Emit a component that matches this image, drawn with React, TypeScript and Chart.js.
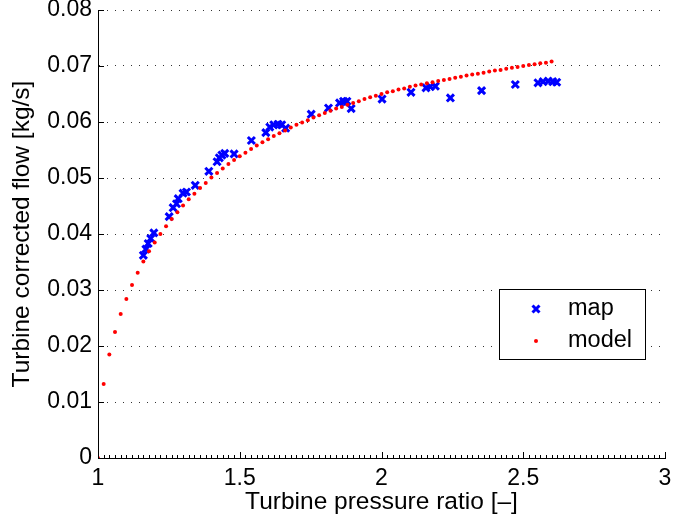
import React, { useEffect, useRef } from "react";
import { Chart, registerables } from "chart.js";

Chart.register(...registerables);

const mapX = [1.160, 1.169, 1.177, 1.186, 1.197, 1.251, 1.265, 1.277, 1.283, 1.300, 1.312, 1.343, 1.391, 1.420, 1.428, 1.437, 1.447, 1.480, 1.541, 1.592, 1.606, 1.620, 1.635, 1.648, 1.662, 1.752, 1.813, 1.852, 1.866, 1.878, 1.893, 2.002, 2.104, 2.157, 2.172, 2.190, 2.243, 2.353, 2.472, 2.552, 2.570, 2.588, 2.604, 2.618];
const mapY = [0.0362, 0.0373, 0.0383, 0.0392, 0.0402, 0.0431, 0.0447, 0.0454, 0.0463, 0.0473, 0.0475, 0.0487, 0.0512, 0.0529, 0.0536, 0.0541, 0.0544, 0.0543, 0.0567, 0.0581, 0.0591, 0.0595, 0.0596, 0.0595, 0.0589, 0.0614, 0.0625, 0.0634, 0.0637, 0.0637, 0.0624, 0.0641, 0.0653, 0.0661, 0.0663, 0.0664, 0.0643, 0.0656, 0.0667, 0.0670, 0.0672, 0.0673, 0.0672, 0.0671];

const modelX = [1.00, 1.02, 1.04, 1.06, 1.08, 1.10, 1.12, 1.14, 1.16, 1.18, 1.20, 1.22, 1.24, 1.26, 1.28, 1.30, 1.32, 1.34, 1.36, 1.38, 1.40, 1.42, 1.44, 1.46, 1.48, 1.50, 1.52, 1.54, 1.56, 1.58, 1.60, 1.62, 1.64, 1.66, 1.68, 1.70, 1.72, 1.74, 1.76, 1.78, 1.80, 1.82, 1.84, 1.86, 1.88, 1.90, 1.92, 1.94, 1.96, 1.98, 2.00, 2.02, 2.04, 2.06, 2.08, 2.10, 2.12, 2.14, 2.16, 2.18, 2.20, 2.22, 2.24, 2.26, 2.28, 2.30, 2.32, 2.34, 2.36, 2.38, 2.40, 2.42, 2.44, 2.46, 2.48, 2.50, 2.52, 2.54, 2.56, 2.58, 2.60];
const modelY = [0.0, 0.0132, 0.0185, 0.0225, 0.0257, 0.0284, 0.0309, 0.0331, 0.0351, 0.0369, 0.0385, 0.0400, 0.0414, 0.0427, 0.0439, 0.0451, 0.0462, 0.0472, 0.0482, 0.0491, 0.0501, 0.0509, 0.0517, 0.0525, 0.0532, 0.0539, 0.0545, 0.0552, 0.0558, 0.0564, 0.0569, 0.0575, 0.0580, 0.0585, 0.0590, 0.0595, 0.0599, 0.0603, 0.0608, 0.0612, 0.0616, 0.0620, 0.0624, 0.0627, 0.0631, 0.0634, 0.0637, 0.0641, 0.0644, 0.0647, 0.0650, 0.0653, 0.0655, 0.0658, 0.0660, 0.0663, 0.0665, 0.0667, 0.0669, 0.0671, 0.0673, 0.0675, 0.0677, 0.0679, 0.0681, 0.0683, 0.0685, 0.0686, 0.0688, 0.0690, 0.0692, 0.0693, 0.0695, 0.0697, 0.0698, 0.0700, 0.0702, 0.0703, 0.0705, 0.0706, 0.0708];

const xTickLabels = ["1", "1.5", "2", "2.5", "3"];
const yTickLabels = ["0", "0.01", "0.02", "0.03", "0.04", "0.05", "0.06", "0.07", "0.08"];
const legendLabels = ["map", "model"];
const xTitle = "Turbine pressure ratio [\u2013]";
const yTitle = "Turbine corrected flow [kg/s]";

const FONT = '"Liberation Sans", Arial, Helvetica, sans-serif';
const BLUE = "#0000ff";
const RED = "#ff0000";

const ticksPlugin = {
  id: "matlabTicks",
  afterDatasetsDraw(chart: any) {
    const ctx = chart.ctx;
    const xs = chart.scales.x;
    const ys = chart.scales.y;
    const area = chart.chartArea;
    ctx.save();
    ctx.strokeStyle = "#000";
    ctx.lineWidth = 1;
    for (let i = 0; i <= 100; i++) {
      const v = 1 + i * 0.02;
      const px = Math.round(xs.getPixelForValue(v)) + 0.5;
      const len = i % 25 === 0 ? 6 : 3;
      ctx.beginPath();
      ctx.moveTo(px, area.bottom);
      ctx.lineTo(px, area.bottom - len);
      ctx.stroke();
    }
    for (let i = 0; i < yTickLabels.length; i++) {
      const py = Math.round(ys.getPixelForValue(i * 0.01)) + 0.5;
      ctx.beginPath();
      ctx.moveTo(area.left, py);
      ctx.lineTo(area.left + 6, py);
      ctx.stroke();
    }
    const lx = 499.5, ly = 289.5, lw = 146, lh = 70;
    ctx.fillStyle = "#fff";
    ctx.fillRect(lx, ly, lw, lh);
    ctx.strokeStyle = "#000";
    ctx.lineWidth = 1;
    ctx.strokeRect(lx, ly, lw, lh);
    const mx = 536, my = 309, r = 3.5;
    ctx.strokeStyle = BLUE;
    ctx.lineWidth = 3;
    ctx.beginPath();
    ctx.moveTo(mx - r, my - r);
    ctx.lineTo(mx + r, my + r);
    ctx.moveTo(mx + r, my - r);
    ctx.lineTo(mx - r, my + r);
    ctx.stroke();
    ctx.fillStyle = RED;
    ctx.beginPath();
    ctx.arc(536, 341, 2, 0, Math.PI * 2);
    ctx.fill();
    ctx.fillStyle = "#000";
    ctx.font = `23.5px ${FONT}`;
    ctx.textBaseline = "middle";
    ctx.textAlign = "left";
    ctx.fillText(legendLabels[0], 568, 309);
    ctx.fillText(legendLabels[1], 568, 341);
    ctx.restore();
  },
};

export default function App() {
  const ref = useRef<HTMLCanvasElement | null>(null);
  useEffect(() => {
    if (!ref.current) return;
    const chart = new Chart(ref.current, {
      type: "scatter",
      data: {
        datasets: [
          {
            label: legendLabels[0],
            data: mapX.map((x, i) => ({ x, y: mapY[i] })),
            pointStyle: "crossRot",
            pointRadius: 5,
            pointBorderWidth: 3,
            borderColor: BLUE,
            backgroundColor: BLUE,
            order: 1,
          },
          {
            label: legendLabels[1],
            data: modelX.map((x, i) => ({ x, y: modelY[i] })),
            pointStyle: "circle",
            pointRadius: 2,
            pointBorderWidth: 0,
            borderColor: RED,
            backgroundColor: RED,
            order: 0,
          },
        ],
      },
      options: {
        animation: false,
        responsive: false,
        events: [],
        layout: { padding: { top: 10, right: 6, left: 0, bottom: 0 } },
        plugins: { legend: { display: false }, tooltip: { enabled: false } },
        scales: {
          x: {
            type: "linear",
            min: 1,
            max: 3,
            afterBuildTicks: (s: any) => {
              s.ticks = xTickLabels.map((t) => ({ value: parseFloat(t) }));
            },
            afterFit: (s: any) => {
              s.height = 66;
              s.paddingLeft = 0;
              s.paddingRight = 0;
            },
            ticks: {
              color: "#000",
              font: { family: FONT, size: 23 },
              padding: 7,
              maxRotation: 0,
              autoSkip: false,
              callback: (v: any) => String(v),
            },
            grid: { display: false, drawTicks: false },
            border: { display: true, color: "#000", width: 1 },
            title: {
              display: true,
              text: xTitle,
              color: "#000",
              font: { family: FONT, size: 24.5 },
              padding: { top: 0, bottom: 7 },
            },
          },
          y: {
            type: "linear",
            min: 0,
            max: 0.08,
            afterBuildTicks: (s: any) => {
              s.ticks = yTickLabels.map((t) => ({ value: parseFloat(t) }));
            },
            afterFit: (s: any) => {
              s.width = 98;
              s.paddingTop = 0;
              s.paddingBottom = 0;
            },
            ticks: {
              color: "#000",
              font: { family: FONT, size: 23 },
              padding: 6,
              autoSkip: false,
              callback: (v: any, i: number) => yTickLabels[i],
            },
            grid: {
              display: true,
              drawTicks: false,
              color: "rgba(0,0,0,0.8)",
              lineWidth: 1,
            },
            border: { display: true, color: "#000", width: 1, dash: [1, 7] },
            title: {
              display: true,
              text: yTitle,
              color: "#000",
              font: { family: FONT, size: 24.5 },
              padding: { top: 8, bottom: 0 },
            },
          },
        },
      },
      plugins: [ticksPlugin],
    } as any);
    return () => chart.destroy();
  }, []);
  return (
    <div style={{ position: "absolute", left: 0, top: 0, width: 673, height: 524, background: "#fff" }}>
      <canvas ref={ref} width={673} height={524} style={{ display: "block" }} />
    </div>
  );
}
